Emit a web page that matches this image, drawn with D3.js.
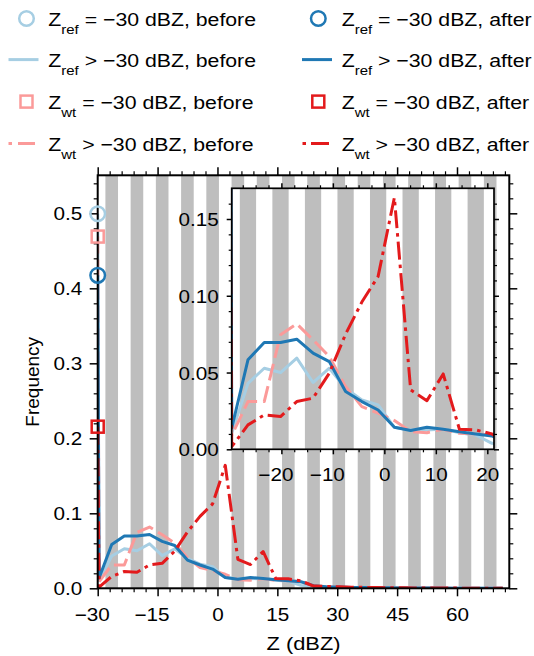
<!DOCTYPE html>
<html>
<head>
<meta charset="utf-8">
<script src="https://cdn.jsdelivr.net/npm/d3@7"></script>
<style>
  body { margin: 0; background: #fff; overflow: hidden; }
  svg { display: block; font-family: "Liberation Sans", Arial, Helvetica, sans-serif; }
</style>
</head>
<body>
<svg id="chart" width="534" height="656"></svg>
<script>
// ── Data ───────────────────────────────────────────────────────────────────
// bin centres (dBZ) of the reflectivity histogram
const binCenters = [-29.65, -26.49, -23.33, -20.17, -17.01, -13.85, -10.69, -7.53, -4.37, -1.21,
  1.95, 5.11, 8.27, 11.43, 14.59, 17.75, 20.91, 24.07, 27.23, 30.39, 33.55, 36.71, 39.87,
  43.03, 46.19, 49.35, 52.51, 55.67, 58.83, 61.99, 65.15, 68.31, 71.47];
const binWidth = 3.16;

// frequency of the -30 dBZ floor value
const floorZ = -30;
const floorRefBefore = 0.4995;
const floorWtBefore  = 0.469;
const floorRefAfter  = 0.4173;
const floorWtAfter   = 0.2155;

// frequency of Z > -30 dBZ, per bin
const refBefore = [0.0104, 0.0430, 0.0528, 0.0500, 0.0594, 0.0435, 0.0528, 0.0398, 0.0322, 0.0289,
  0.0143, 0.0126, 0.0126, 0.0133, 0.0108, 0.0093, 0.0039, 0.0025, 0.0018, 0.0013, 0.0010, 0.0008,
  0.0006, 0.0005, 0.0004, 0.0003, 0.0003, 0.0002, 0.0002, 0.0001, 0.0001, 0.0001, 0.0001];
const refAfter = [0.0137, 0.0583, 0.0696, 0.0696, 0.0717, 0.0626, 0.0571, 0.0376, 0.0311, 0.0256,
  0.0143, 0.0122, 0.0143, 0.0130, 0.0115, 0.0100, 0.0087, 0.0035, 0.0022, 0.0016, 0.0012, 0.0010,
  0.0008, 0.0006, 0.0005, 0.0004, 0.0003, 0.0003, 0.0002, 0.0002, 0.0001, 0.0001, 0.0001];
const wtBefore = [0.0090, 0.0311, 0.0311, 0.0746, 0.0817, 0.0713, 0.0604, 0.0409, 0.0278, 0.0235,
  0.0187, 0.0115, 0.0108, 0.0130, 0.0104, 0.0100, 0.0092, 0.0030, 0.0020, 0.0015, 0.0011, 0.0009,
  0.0007, 0.0005, 0.0004, 0.0003, 0.0003, 0.0002, 0.0002, 0.0001, 0.0001, 0.0001, 0.0001];
const wtAfter = [0.0017, 0.0159, 0.0224, 0.0213, 0.0311, 0.0333, 0.0496, 0.0750, 0.0959, 0.1126,
  0.1640, 0.0387, 0.0317, 0.0491, 0.0130, 0.0126, 0.0100, 0.0030, 0.0025, 0.0020, 0.0015, 0.0012,
  0.0010, 0.0008, 0.0006, 0.0005, 0.0004, 0.0003, 0.0003, 0.0002, 0.0002, 0.0001, 0.0001];

// ticks
const mainXTicks  = [-30, -15, 0, 15, 30, 45, 60];
const mainYTicks  = [0, 0.1, 0.2, 0.3, 0.4, 0.5];
const insetXTicks = [-20, -10, 0, 10, 20];
const insetYTicks = [0, 0.05, 0.10, 0.15];

// ── Layout / style ─────────────────────────────────────────────────────────
const MAIN  = { left: 97.7, right: 509.3, top: 175.3, bottom: 588.3 };
const INSET = { left: 231.7, right: 494, top: 188.3, bottom: 449.3 };
const SX = 1.15;            // glyphs in the source are a bit wide
const TICK_FONT = 18, LABEL_FONT = 19, LEGEND_FONT = 18.5;
const LINE_W = 3;
const STRIPE = "#bebebe";
const DASHED = "17,6", DASHDOT = "18,5,3.5,5";

const series = [
  { values: refBefore, floor: floorRefBefore, color: "#a6cee3", dash: null,    marker: "circle" },
  { values: wtBefore,  floor: floorWtBefore,  color: "#fb9a99", dash: DASHED,  marker: "square" },
  { values: refAfter,  floor: floorRefAfter,  color: "#1f78b4", dash: null,    marker: "circle" },
  { values: wtAfter,   floor: floorWtAfter,   color: "#e31a1c", dash: DASHDOT, marker: "square" },
];

const svg = d3.select("#chart");
const defs = svg.append("defs");

// ── Helpers ────────────────────────────────────────────────────────────────
function clip(id, box) {
  defs.append("clipPath").attr("id", id).append("rect")
    .attr("x", box.left).attr("y", box.top)
    .attr("width", box.right - box.left).attr("height", box.bottom - box.top);
}

function drawStripes(g, sx, sy) {
  const [d0, d1] = sx.domain();
  const bins = binCenters
    .filter((_, i) => i % 2 === 1)
    .map(c => [Math.max(d0, c - binWidth / 2), Math.min(d1, c + binWidth / 2)])
    .filter(b => b[1] > b[0]);
  g.append("g").selectAll("rect")
    .data(bins)
    .join("rect")
    .attr("x", b => sx(b[0]))
    .attr("width", b => sx(b[1]) - sx(b[0]))
    .attr("y", sy.range()[1])
    .attr("height", sy.range()[0] - sy.range()[1])
    .attr("fill", STRIPE);
}

function drawLines(g, sx, sy, clipId) {
  const line = d3.line().x(d => sx(d[0])).y(d => sy(d[1]));
  const lg = g.append("g").attr("clip-path", `url(#${clipId})`);
  series.forEach(s => {
    const pts = [[floorZ, s.floor], ...binCenters.map((c, i) => [c, s.values[i]])];
    lg.append("path")
      .attr("d", line(pts))
      .attr("fill", "none")
      .attr("stroke", s.color)
      .attr("stroke-width", LINE_W)
      .attr("stroke-linejoin", "round")
      .attr("stroke-dasharray", s.dash);
  });
}

function marker(g, kind, cx, cy, color) {
  if (kind === "circle") {
    g.append("circle").attr("cx", cx).attr("cy", cy).attr("r", 7.3)
      .attr("fill", "none").attr("stroke", color).attr("stroke-width", 2.5);
  } else {
    g.append("rect").attr("x", cx - 6).attr("y", cy - 6).attr("width", 12).attr("height", 12)
      .attr("fill", "none").attr("stroke", color).attr("stroke-width", 2.5);
  }
}

// one set of tick marks; labels only when fmt is given
function ticks(g, axisFn, scale, values, size, width, fmt) {
  const a = axisFn(scale).tickValues(values).tickSize(size).tickSizeOuter(0)
    .tickFormat(fmt || "");
  const ag = g.append("g").call(a);
  ag.select(".domain").remove();
  ag.selectAll(".tick line").attr("stroke", "#000").attr("stroke-width", width);
  ag.selectAll(".tick text").attr("fill", "#000").attr("font-size", TICK_FONT)
    .attr("font-family", null);
  return ag;
}

// x labels: digits centred on the tick, minus sign hanging to the left
function xLabels(ag, top) {
  ag.selectAll(".tick text").each(function (d) {
    const t = d3.select(this);
    const digits = t.text().replace("−", "").replace("-", "");
    t.text(digits);
    const w = this.getComputedTextLength();
    t.attr("text-anchor", "end").attr("x", w / 2).attr("y", top).attr("dy", "0.71em")
      .attr("transform", `scale(${SX},1)`)
      .text((d < 0 ? "−" : "") + digits);
  });
}

function yLabels(ag, gap) {
  ag.selectAll(".tick text")
    .attr("text-anchor", "end").attr("x", -gap / SX).attr("dy", "0.36em")
    .attr("transform", `scale(${SX},1)`);
}

function panel(box, sx, sy, o) {
  const g = svg.append("g");
  if (o.background) {
    g.append("rect").attr("x", box.left).attr("y", box.top)
      .attr("width", box.right - box.left).attr("height", box.bottom - box.top)
      .attr("fill", "#fff");
  }
  drawStripes(g, sx, sy);
  drawLines(g, sx, sy, o.clipId);

  const bottom = g.append("g").attr("transform", `translate(0,${box.bottom})`);
  const top    = g.append("g").attr("transform", `translate(0,${box.top})`);
  const left   = g.append("g").attr("transform", `translate(${box.left},0)`);
  const right  = g.append("g").attr("transform", `translate(${box.right},0)`);

  const xl = ticks(bottom, d3.axisBottom, sx, o.xMajor, o.major, 1.5, o.xFmt);
  xLabels(xl, o.xLabelTop);
  ticks(bottom, d3.axisBottom, sx, o.xMinor, o.minor, 1.2);
  ticks(top, d3.axisTop, sx, o.xMajor, o.major, 1.5);
  ticks(top, d3.axisTop, sx, o.xMinor, o.minor, 1.2);

  const yl = ticks(left, d3.axisLeft, sy, o.yMajor, o.major, 1.5, o.yFmt);
  yLabels(yl, o.yLabelGap);
  ticks(left, d3.axisLeft, sy, o.yMinor, o.minor, 1.2);
  ticks(right, d3.axisRight, sy, o.yMajor, o.major, 1.5);
  ticks(right, d3.axisRight, sy, o.yMinor, o.minor, 1.2);

  g.append("rect").attr("x", box.left).attr("y", box.top)
    .attr("width", box.right - box.left).attr("height", box.bottom - box.top)
    .attr("fill", "none").attr("stroke", "#000").attr("stroke-width", o.frame);
  return g;
}

// ── Main panel ─────────────────────────────────────────────────────────────
clip("clip-main", MAIN);
clip("clip-inset", INSET);

const x = d3.scaleLinear().domain([-30, 73.1]).range([MAIN.left, MAIN.right]);
const y = d3.scaleLinear().domain([0, 0.5507]).range([MAIN.bottom, MAIN.top]);

const mainG = panel(MAIN, x, y, {
  clipId: "clip-main", background: false,
  xMajor: mainXTicks, xMinor: d3.range(-30, 73, 3).filter(v => !mainXTicks.includes(v)),
  yMajor: mainYTicks, yMinor: d3.range(0, 0.55, 0.02).filter(v => Math.abs(v * 10 - Math.round(v * 10)) > 1e-6),
  major: 8, minor: 4, frame: 2,
  xFmt: d3.format("d"), yFmt: d3.format(".1f"),
  xLabelTop: 19.5, yLabelGap: 15.5
});

// floor markers at -30 dBZ
series.forEach(s => marker(mainG, s.marker, x(floorZ), y(s.floor), s.color));

// axis titles
svg.append("g")
  .attr("transform", `translate(${(MAIN.left + MAIN.right) / 2},650) scale(${SX},1)`)
  .append("text")
  .attr("text-anchor", "middle").attr("font-size", LABEL_FONT)
  .text("Z (dBZ)");
svg.append("text")
  .attr("transform", `translate(39,${(MAIN.top + MAIN.bottom) / 2}) rotate(-90)`)
  .attr("text-anchor", "middle").attr("font-size", LABEL_FONT)
  .text("Frequency");

// ── Inset ──────────────────────────────────────────────────────────────────
const xi = d3.scaleLinear().domain([-29.65, 21.3]).range([INSET.left, INSET.right]);
const yi = d3.scaleLinear().domain([0, 0.17]).range([INSET.bottom, INSET.top]);

panel(INSET, xi, yi, {
  clipId: "clip-inset", background: true,
  xMajor: insetXTicks, xMinor: d3.range(-27.5, 21.3, 2.5).filter(v => !insetXTicks.includes(v)),
  yMajor: insetYTicks, yMinor: d3.range(0.01, 0.17, 0.01).filter(v => Math.abs(v * 20 - Math.round(v * 20)) > 1e-6),
  major: 5, minor: 3, frame: 1.7,
  xFmt: d3.format("d"), yFmt: d3.format(".2f"),
  xLabelTop: 18.5, yLabelGap: 13
});

// ── Legend ─────────────────────────────────────────────────────────────────
const legendCols = [
  { mx: 26.5, lx0: 8.5, lx1: 38.5, tx: 48.3, when: "before", items: [series[0], series[1]] },
  { mx: 318.3, lx0: 302, lx1: 332, tx: 341.7, when: "after",  items: [series[2], series[3]] },
];
const legendRows = [18.5, 59.6, 101.6, 143.4];
const legendSubs = ["ref", "ref", "wt", "wt"];
const legendOps  = ["=", ">", "=", ">"];

const legend = svg.append("g");
legendCols.forEach(col => {
  legendRows.forEach((ry, r) => {
    const s = col.items[r < 2 ? 0 : 1];
    if (legendOps[r] === "=") {
      marker(legend, s.marker, col.mx, ry, s.color);
    } else {
      legend.append("line")
        .attr("x1", col.lx0).attr("x2", col.lx1).attr("y1", ry).attr("y2", ry)
        .attr("stroke", s.color).attr("stroke-width", LINE_W)
        .attr("stroke-dasharray", s.dash)
        .attr("stroke-dashoffset", s.dash === DASHED ? 13.5 : s.dash === DASHDOT ? 22.5 : null);
    }
    const t = legend.append("g")
      .attr("transform", `translate(${col.tx},${ry + 7.3}) scale(${SX},1)`)
      .append("text").attr("font-size", LEGEND_FONT);
    t.append("tspan").text("Z");
    t.append("tspan").attr("font-size", 13).attr("dy", 8.5).text(legendSubs[r]);
    t.append("tspan").attr("dy", -8.5).text(` ${legendOps[r]} −30 dBZ, ${col.when}`);
  });
});
</script>
</body>
</html>
